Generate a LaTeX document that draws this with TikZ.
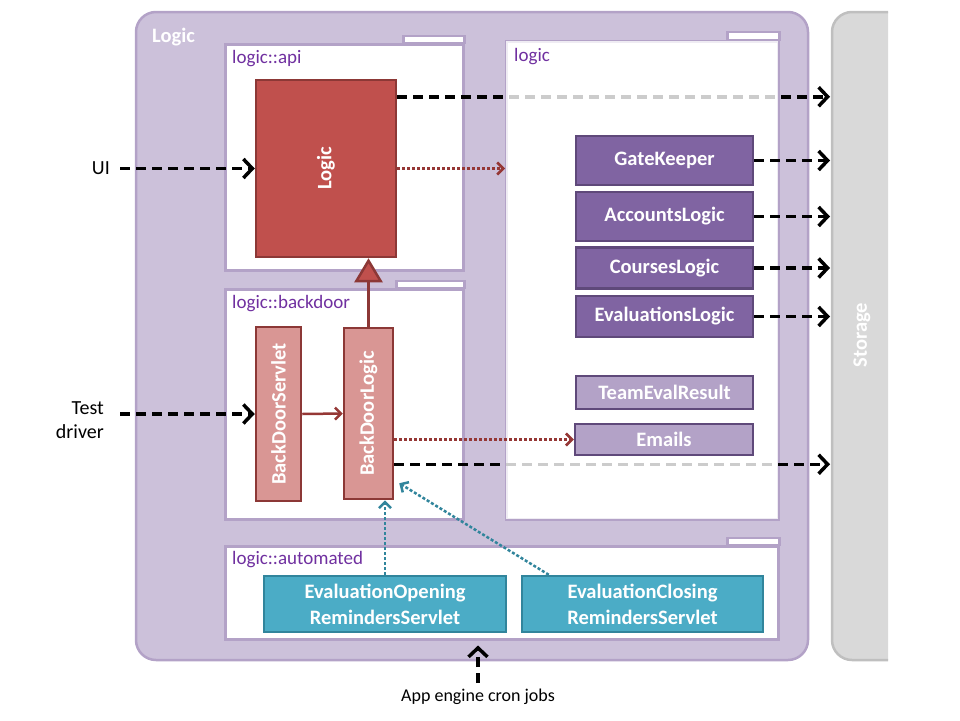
\documentclass[tikz,border=0pt]{standalone}
\usepackage{fontspec}
\usepackage{graphicx}
\setmainfont{Carlito}
\usetikzlibrary{arrows.meta}
\definecolor{panelfill}{HTML}{CCC1DA}
\definecolor{panelline}{HTML}{B3A2C7}
\definecolor{pkgtext}{HTML}{7030A0}
\definecolor{logicred}{HTML}{C0504D}
\definecolor{darkred}{HTML}{8C3836}
\definecolor{lightred}{HTML}{D99694}
\definecolor{classpurple}{HTML}{8064A2}
\definecolor{darkpurple}{HTML}{5F497A}
\definecolor{lightpurple}{HTML}{B3A2C7}
\definecolor{cyanbox}{HTML}{4BACC6}
\definecolor{darkcyan}{HTML}{31859C}
\definecolor{storegray}{HTML}{D9D9D9}
\definecolor{storeline}{HTML}{BFBFBF}
\definecolor{callred}{HTML}{953735}

\begin{document}
\begin{tikzpicture}[x=1pt,y=-1pt,every node/.style={inner sep=0pt},
  classbox/.style={draw,line width=2.5pt,align=center,text=white,font=\fontsize{20.5}{26}\selectfont\bfseries},
  package/.style={draw=panelline,fill=white,line width=2.5pt,anchor=north west},
  pkgtab/.style={draw=panelline,fill=white,line width=2.5pt},
  pkgname/.style={anchor=west,text=pkgtext,font=\fontsize{19}{23}\selectfont},
  depline/.style={line width=3.5pt,dash pattern=on 10pt off 6pt,-{Straight Barb[length=9pt,width=19pt]}},
  callline/.style={line width=2.5pt,dash pattern=on 3pt off 2pt,-{Straight Barb[length=6pt,width=12pt]}},
  outside/.style={font=\fontsize{20}{24}\selectfont}]
\useasboundingbox (0,0) rectangle (960,720);
% component frame and storage
\draw[fill=panelfill,draw=panelline,line width=2.5pt,rounded corners=20pt] (136,12) rectangle (808,660);
\node[anchor=west,text=white,font=\fontsize{20.5}{24}\selectfont\bfseries] (logictitle) at (152,37) {Logic};
\filldraw[fill=storegray,draw=storeline,line width=2.5pt,rounded corners=20pt] (888,12) -- (832,12) -- (832,660) -- (888,660);
\node[text=white,font=\fontsize{20.5}{24}\selectfont\bfseries] (storage) at (862,335) {\rotatebox{90}{Storage}};
\coordinate (storedge) at (830,12);
% packages
\node[package,minimum width=238,minimum height=226] (apipkg) at (224,43) {};
\draw[pkgtab] ([xshift=-61pt]apipkg.north east) rectangle ++(61,-7);
\node[pkgname] (apiname) at (232,59) {logic::api};
\node[package,minimum width=238,minimum height=230] (backdoorpkg) at (224,288) {};
\draw[pkgtab] ([xshift=-68pt]backdoorpkg.north east) rectangle ++(68,-7);
\node[pkgname] (backdoorname) at (232,304) {logic::backdoor};
\node[package,minimum width=553,minimum height=93] (autopkg) at (224,545) {};
\draw[pkgtab] ([xshift=-52pt]autopkg.north east) rectangle ++(52,-7);
\node[pkgname] (autoname) at (232,560) {logic::automated};
\node[package,minimum width=272,minimum height=478] (logicpkg) at (505,40) {};
\draw[pkgtab] ([xshift=-52pt]logicpkg.north east) rectangle ++(52,-8);
% api and backdoor classes
\node[classbox,fill=logicred,draw=darkred,minimum width=140,minimum height=177] (logic) at (326,168.5) {\rotatebox{90}{Logic}};
\node[classbox,fill=lightred,draw=darkred,minimum width=45,minimum height=174] (bdservlet) at (278.5,414) {\rotatebox{90}{BackDoorServlet}};
\node[classbox,fill=lightred,draw=darkred,minimum width=49,minimum height=171] (bdlogic) at (368.5,413.5) {\rotatebox{90}{BackDoorLogic}};
% storage calls pass behind the logic package, so they are washed out there
\coordinate (logicout) at ([yshift=-18pt]logic.north east);
\coordinate (bdout) at ([yshift=36pt]bdlogic.south east);
\draw[depline] (logicout) -- (storedge |- logicout);
\draw[depline] (bdout) -- (storedge |- bdout);
\fill[white,fill opacity=.8] ([shift={(1.25pt,-1.25pt)}]logicpkg.north west) rectangle ([shift={(-1.25pt,1.25pt)}]logicpkg.south east);
\node[pkgname] (logicname) at (514,57) {logic};
% logic classes
\node[classbox,fill=classpurple,draw=darkpurple,minimum width=177,minimum height=49] (gatekeeper) at (664.5,160.5) {GateKeeper};
\node[classbox,fill=classpurple,draw=darkpurple,minimum width=177,minimum height=49] (accounts) at (664.5,216.5) {AccountsLogic};
\node[classbox,fill=classpurple,draw=darkpurple,minimum width=177,minimum height=41] (courses) at (664.5,268) {CoursesLogic};
\node[classbox,fill=classpurple,draw=darkpurple,minimum width=177,minimum height=41] (evaluations) at (664.5,316.5) {EvaluationsLogic};
\node[classbox,fill=lightpurple,draw=darkpurple,minimum width=177,minimum height=33] (teameval) at (664.5,392.5) {TeamEvalResult};
\node[classbox,fill=lightpurple,draw=darkpurple,minimum width=178,minimum height=31] (emails) at (664,439.5) {Emails};
\draw[depline] (gatekeeper) -- (storedge |- gatekeeper);
\draw[depline] (accounts) -- (storedge |- accounts);
\draw[depline] (courses) -- (storedge |- courses);
\draw[depline] (evaluations) -- (storedge |- evaluations);
% servlets triggered by cron
\node[classbox,fill=cyanbox,draw=darkcyan,minimum width=242,minimum height=56] (evalopen) at (385,604) {EvaluationOpening\\RemindersServlet};
\node[classbox,fill=cyanbox,draw=darkcyan,minimum width=241,minimum height=56] (evalclose) at (642.5,604) {EvaluationClosing\\RemindersServlet};
% callers from outside
\node[outside,anchor=east] (ui) at (110,168.5) {UI};
\node[outside,anchor=east,align=right] (testdrv) at (104,420) {Test\\driver};
\node[outside,font=\fontsize{18}{22}\selectfont] (cron) at (478,697) {App engine cron jobs};
\draw[depline] ([xshift=10pt]ui.east) -- (logic.west);
\draw[depline] ([xshift=16pt]testdrv.east |- bdservlet.west) -- (bdservlet.west);
\draw[depline] ([yshift=6pt]cron.north) -- ([yshift=-5pt]cron.north |- autopkg.south);
% calls inside the component
\draw[callline,draw=callred] (logic.east) -- (logicpkg.west |- logic.east);
\draw[callline,draw=callred] (bdlogic.east |- emails.west) -- (emails.west);
\draw[draw=callred,line width=2.5pt,-{Straight Barb[length=6pt,width=12pt]}] (bdservlet.east) -- (bdlogic.west);
\draw[draw=darkred,line width=2.5pt,-{Triangle[length=24pt,width=28pt,fill=logicred]}] (bdlogic.north) -- (bdlogic.north |- logic.south);
\draw[callline,draw=darkcyan] (evalopen.north) -- (evalopen.north |- bdlogic.south);
\draw[callline,draw=darkcyan] ([xshift=28pt]evalclose.north west) -- ([xshift=5pt,yshift=17pt]bdlogic.south east);
\end{tikzpicture}
\end{document}
